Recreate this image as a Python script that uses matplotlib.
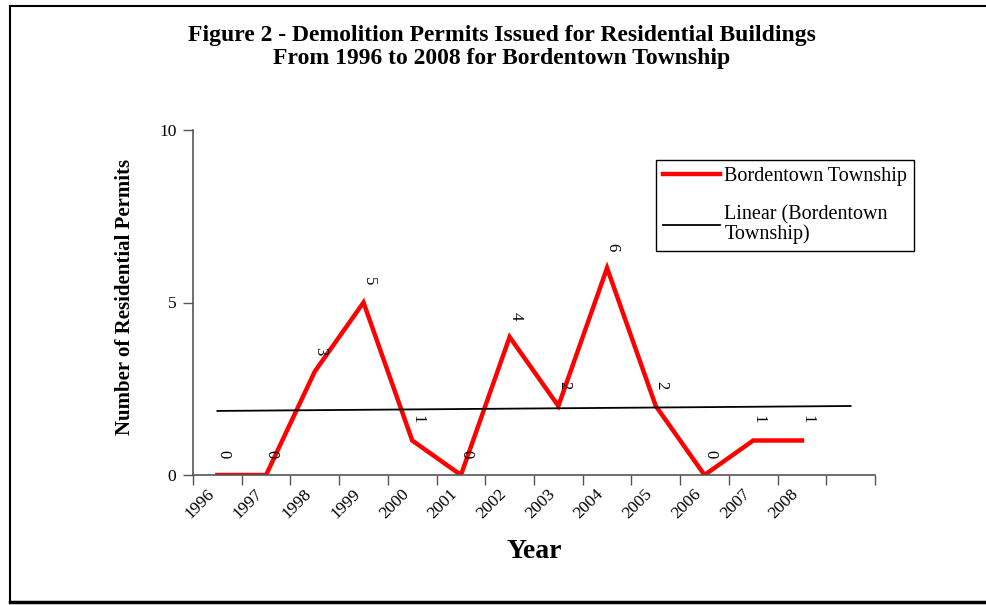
import numpy as np
import matplotlib
matplotlib.use("Agg")
import matplotlib.pyplot as plt
from matplotlib.lines import Line2D

plt.rcParams['font.family'] = ['Liberation Serif', 'DejaVu Serif']

# Data
years = ['1996', '1997', '1998', '1999', '2000', '2001', '2002',
         '2003', '2004', '2005', '2006', '2007', '2008']
permits = [0, 0, 3, 5, 1, 0, 4, 2, 6, 2, 0, 1, 1]

title = ("Figure 2 - Demolition Permits Issued for Residential Buildings\n"
         "From 1996 to 2008 for Bordentown Township")

fig = plt.figure(figsize=(9.87, 6.05), dpi=100)
ax = fig.add_axes([193/987, 1-475/605, (875-193)/987, (475-130)/605])

# category positions (centres of each slot)
xpos = np.arange(len(years)) + 0.5
ax.plot(xpos, permits, color='#ff0000', lw=3.2, solid_joinstyle='miter',
        label='Bordentown Township')

# linear trend, forecast one period forward
coef = np.polyfit(np.arange(1, len(years) + 1), permits, 1)
tx = np.array([1, len(years) + 1])
ax.plot(tx - 0.5, np.polyval(coef, tx), color='black', lw=1.3,
        label='Linear (Bordentown\nTownship)')

# data labels
for x, v in zip(xpos, permits):
    ax.annotate(str(v), (x, v), xytext=(4, 15), textcoords='offset points',
                ha='center', va='center', rotation=-90, fontsize=12)

ax.set_xlim(0, len(years) + 1)
ax.set_ylim(0, 10)
ax.set_yticks([0, 5, 10])
ax.tick_params(axis='y', labelsize=12.5, length=7, width=1, direction='out',
               color='#555555', pad=5)

ax.set_xticks(np.arange(0, len(years) + 2))
ax.set_xticklabels([])
ax.tick_params(axis='x', which='major', length=7, width=1, color='#555555')
ax.set_xticks(xpos, minor=True)
ax.set_xticklabels(years, minor=True, rotation=45, ha='right', fontsize=12.5)
ax.tick_params(axis='x', which='minor', length=0, pad=8)

for s in ['top', 'right']:
    ax.spines[s].set_visible(False)
for s in ['left', 'bottom']:
    ax.spines[s].set_color('#555555')
    ax.spines[s].set_linewidth(1.2)

ax.set_ylabel('Number of Residential Permits', fontsize=15, fontweight='bold',
              va='center')
ax.yaxis.set_label_coords(-0.099, 0.515)
ax.set_xlabel('Year', fontsize=20, fontweight='bold', labelpad=12)

fig.text(502/987, 1-47/605, title, ha='center', va='center', fontsize=17,
         fontweight='bold', linespacing=1.08)

handles = [Line2D([], [], color='#ff0000', lw=3.2),
           Line2D([], [], color='black', lw=1.3)]
leg = ax.legend(handles, ['Bordentown Township', 'Linear (Bordentown\nTownship)'],
                loc='upper left', bbox_to_anchor=(656/987, 1-160/605),
                bbox_transform=fig.transFigure, fancybox=False, framealpha=1,
                edgecolor='black', fontsize=14.5, handlelength=2.85,
                handletextpad=0.2, labelspacing=0.95, borderaxespad=0,
                borderpad=0.35)
leg.get_frame().set_linewidth(1.0)
for t in leg.get_texts():
    t.set_linespacing(1.0)

# outer frame
fig.add_artist(Line2D([10/987, 10/987], [1-6/605, 1-602/605], color='black',
                      lw=1.5, transform=fig.transFigure))
fig.add_artist(Line2D([10/987, 1.0], [1-6/605, 1-6/605], color='black',
                      lw=1.5, transform=fig.transFigure))
fig.add_artist(Line2D([10/987, 1.0], [1-602/605, 1-602/605], color='black',
                      lw=2.5, transform=fig.transFigure))

fig.savefig('out.png', dpi=100)
